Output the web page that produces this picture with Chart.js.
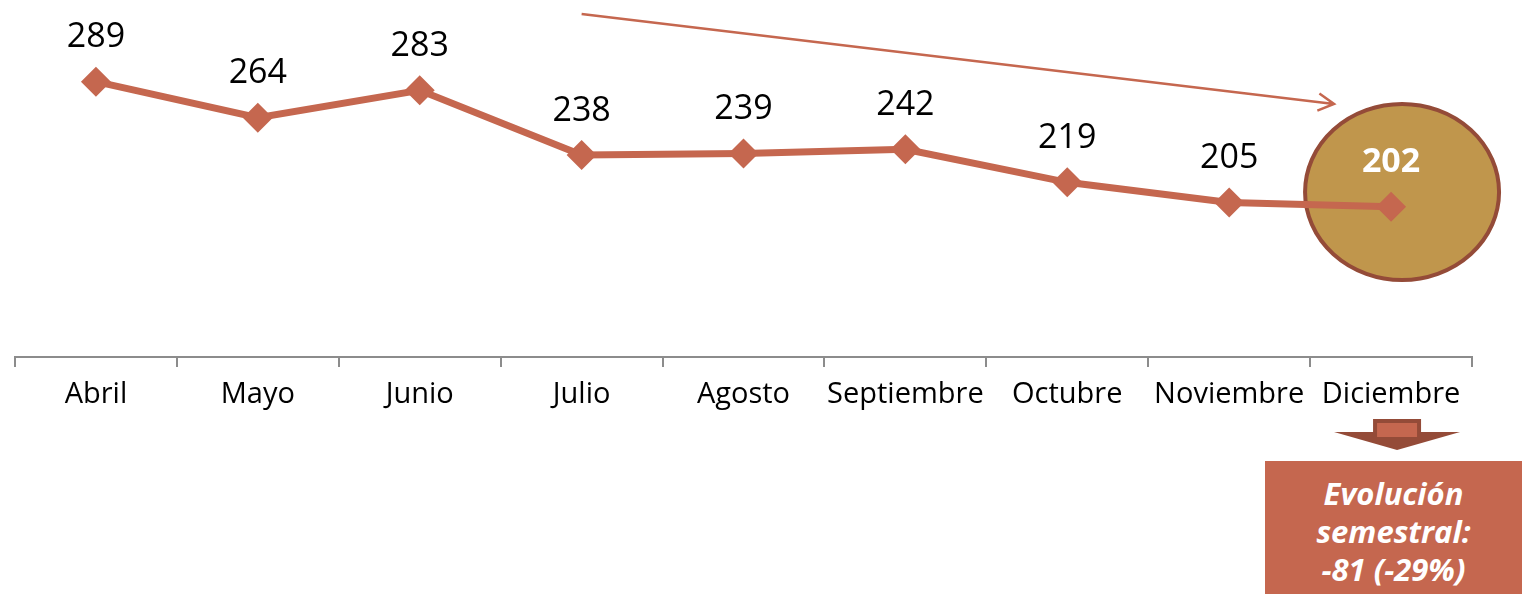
<!DOCTYPE html>
<html lang="es">
<head>
    <meta charset="UTF-8">
    <script src="https://cdn.jsdelivr.net/npm/chart.js"></script>
    <title>Evolución mensual</title>
    <style>
        body { margin: 0; background: #fff; }
        #wrap { position: relative; width: 1522px; height: 594px; overflow: hidden; }
        #resumen {
            position: absolute; left: 1265px; top: 461px; width: 257px; height: 133px;
            background: #C5674F; color: #fff;
            font-family: "Open Sans", sans-serif; font-weight: bold; font-style: italic;
            font-size: 31px; line-height: 38px; text-align: center;
            padding-top: 13px; box-sizing: border-box;
        }
    </style>
</head>
<body>
<div id="wrap">
    <canvas id="grafico" width="1522" height="594"></canvas>
    <div id="resumen">Evolución<br>semestral:<br>-81 (-29%)</div>
</div>
<script>
    // datos
    const meses = ['Abril', 'Mayo', 'Junio', 'Julio', 'Agosto', 'Septiembre', 'Octubre', 'Noviembre', 'Diciembre'];
    const valores = [289, 264, 283, 238, 239, 242, 219, 205, 202];

    const rojo = '#C5674F';
    const marron = '#944B38';
    const dorado = '#C0964C';

    // circulo y flechas (debajo de la linea)
    const adornos = {
        id: 'adornos',
        beforeDatasetsDraw(chart) {
            const ctx = chart.ctx;
            const x = chart.scales.x;
            const last = chart.getDatasetMeta(0).data[valores.length - 1];
            ctx.save();
            // flecha larga
            const x0 = x.getPixelForValue(3);
            const x1 = last.x - 57;
            const y0 = 14, y1 = 104;
            ctx.strokeStyle = rojo;
            ctx.lineWidth = 2.5;
            ctx.beginPath();
            ctx.moveTo(x0, y0);
            ctx.lineTo(x1, y1);
            const ang = Math.atan2(y1 - y0, x1 - x0);
            ctx.moveTo(x1 - 18 * Math.cos(ang - 0.5), y1 - 18 * Math.sin(ang - 0.5));
            ctx.lineTo(x1, y1);
            ctx.lineTo(x1 - 18 * Math.cos(ang + 0.5), y1 - 18 * Math.sin(ang + 0.5));
            ctx.stroke();
            // circulo
            ctx.beginPath();
            ctx.ellipse(last.x + 11, 192, 97, 88, 0, 0, Math.PI * 2);
            ctx.fillStyle = dorado;
            ctx.fill();
            ctx.lineWidth = 4;
            ctx.strokeStyle = marron;
            ctx.stroke();
            // flecha hacia abajo
            const cx = last.x + 6;
            ctx.beginPath();
            ctx.moveTo(cx - 24, 419);
            ctx.lineTo(cx + 24, 419);
            ctx.lineTo(cx + 24, 432);
            ctx.lineTo(cx + 63, 432);
            ctx.lineTo(cx, 450);
            ctx.lineTo(cx - 63, 432);
            ctx.lineTo(cx - 24, 432);
            ctx.closePath();
            ctx.fillStyle = marron;
            ctx.fill();
            ctx.fillStyle = rojo;
            ctx.fillRect(cx - 20, 423, 40, 14);
            ctx.restore();
        },
        afterDatasetsDraw(chart) {
            const ctx = chart.ctx;
            const pts = chart.getDatasetMeta(0).data;
            ctx.save();
            ctx.textAlign = 'center';
            ctx.textBaseline = 'middle';
            pts.forEach((p, i) => {
                if (i === pts.length - 1) {
                    ctx.font = 'bold 34px "Open Sans"';
                    ctx.fillStyle = '#fff';
                } else {
                    ctx.font = '34px "Open Sans"';
                    ctx.fillStyle = '#000';
                }
                ctx.fillText(valores[i], p.x, p.y - 44);
            });
            ctx.restore();
        }
    };

    new Chart(document.getElementById('grafico'), {
        type: 'line',
        data: {
            labels: meses,
            datasets: [{
                data: valores,
                borderColor: rojo,
                borderWidth: 7,
                pointStyle: 'rectRot',
                pointRadius: 15,
                pointBackgroundColor: rojo,
                pointBorderColor: rojo,
                pointBorderWidth: 0,
                tension: 0
            }]
        },
        options: {
            responsive: false,
            animation: false,
            layout: { padding: { left: 14, right: 50, top: 7, bottom: 0 } },
            plugins: { legend: { display: false }, tooltip: { enabled: false } },
            scales: {
                x: {
                    offset: true,
                    afterFit(scale) { scale.height = 237; },
                    grid: { offset: true, drawOnChartArea: false, drawTicks: true, tickLength: 10, color: '#8c8c8c', lineWidth: 2 },
                    border: { display: true, color: '#8c8c8c', width: 2 },
                    ticks: { autoSkip: false, maxRotation: 0, padding: 10, color: '#000', font: { family: 'Open Sans', size: 29 } }
                },
                y: { display: false, min: 97.5, max: 335.4 }
            }
        },
        plugins: [adornos]
    });
</script>
</body>
</html>
